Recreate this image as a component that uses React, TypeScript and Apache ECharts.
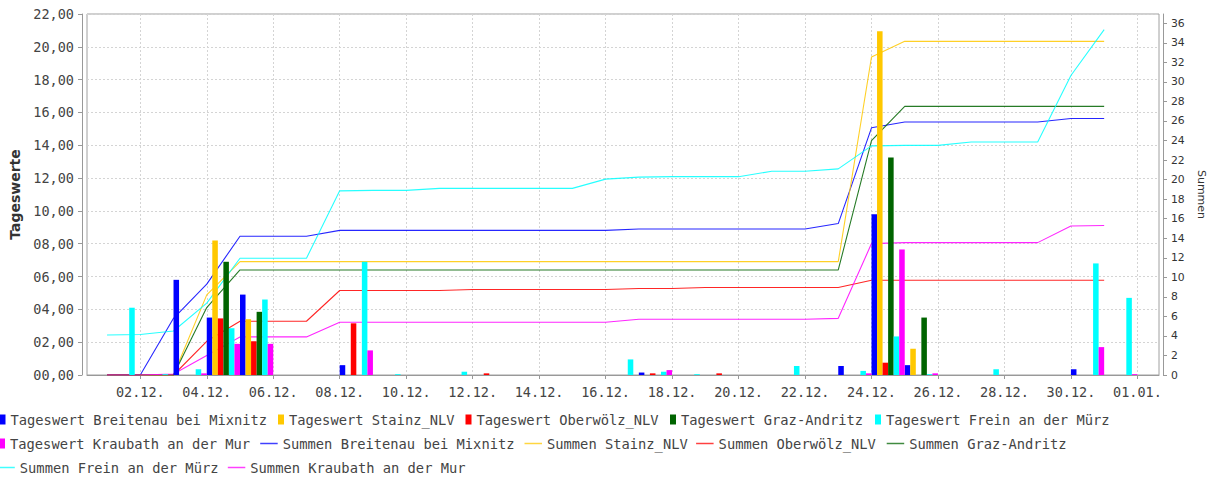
import React, { useEffect, useRef } from 'react';
import * as echarts from 'echarts';

// Day of month (December), 1 = 01.12.
const days = [1, 2, 3, 4, 5, 6, 7, 8, 9, 10, 11, 12, 13, 14, 15, 16, 17, 18, 19, 20, 21, 22, 23, 24, 25, 26, 27, 28, 29, 30, 31];

// x tick positions (day numbers) and their labels
const tickDays = [2, 4, 6, 8, 10, 12, 14, 16, 18, 20, 22, 24, 26, 28, 30, 32];
const tickLabels = ['02.12.', '04.12.', '06.12.', '08.12.', '10.12.', '12.12.', '14.12.', '16.12.', '18.12.', '20.12.', '22.12.', '24.12.', '26.12.', '28.12.', '30.12.', '01.01.'];
const rightTicks = [0, 2, 4, 6, 8, 10, 12, 14, 16, 18, 20, 22, 24, 26, 28, 30, 32, 34, 36];

// Daily values (Tageswerte)
const tagBreitenau = [0, 0, 5.8, 3.5, 4.9, 0, 0, 0.6, 0, 0, 0, 0, 0, 0, 0, 0, 0.15, 0, 0, 0, 0, 0, 0.55, 9.8, 0.6, 0, 0, 0, 0, 0.35, 0];
const tagStainz = [0, 0, 0, 8.2, 3.4, 0, 0, 0, 0, 0, 0, 0, 0, 0, 0, 0, 0, 0, 0, 0, 0, 0, 0, 20.95, 1.6, 0, 0, 0, 0, 0, 0];
const tagOberwoelz = [0, 0, 0, 3.45, 2.05, 0, 0, 3.15, 0, 0, 0, 0.1, 0, 0, 0, 0, 0.1, 0, 0.1, 0, 0, 0, 0, 0.75, 0, 0, 0, 0, 0, 0, 0];
const tagGraz = [0, 0, 0, 6.9, 3.85, 0, 0, 0, 0, 0, 0, 0, 0, 0, 0, 0, 0, 0, 0, 0, 0, 0, 0, 13.25, 3.5, 0, 0, 0, 0, 0, 0];
const tagFrein = [4.1, 0.05, 0.35, 2.85, 4.6, 0, 0, 6.9, 0.05, 0, 0.2, 0, 0, 0, 0, 0.95, 0.2, 0.05, 0, 0, 0.55, 0, 0.25, 2.35, 0.05, 0, 0.35, 0, 0, 6.8, 4.7];
const tagKraubath = [0, 0, 0.1, 1.9, 1.9, 0, 0, 1.5, 0, 0, 0, 0, 0, 0, 0, 0, 0.3, 0, 0, 0, 0, 0, 0.1, 7.65, 0.1, 0, 0, 0, 0, 1.7, 0.05];

// Running totals (Summen)
const sumBreitenau = [0, 0, 5.8, 9.3, 14.2, 14.2, 14.2, 14.8, 14.8, 14.8, 14.8, 14.8, 14.8, 14.8, 14.8, 14.8, 14.95, 14.95, 14.95, 14.95, 14.95, 14.95, 15.5, 25.3, 25.9, 25.9, 25.9, 25.9, 25.9, 26.25, 26.25];
const sumStainz = [0, 0, 0, 8.2, 11.6, 11.6, 11.6, 11.6, 11.6, 11.6, 11.6, 11.6, 11.6, 11.6, 11.6, 11.6, 11.6, 11.6, 11.6, 11.6, 11.6, 11.6, 11.6, 32.55, 34.15, 34.15, 34.15, 34.15, 34.15, 34.15, 34.15];
const sumOberwoelz = [0, 0, 0, 3.45, 5.5, 5.5, 5.5, 8.65, 8.65, 8.65, 8.65, 8.75, 8.75, 8.75, 8.75, 8.75, 8.85, 8.85, 8.95, 8.95, 8.95, 8.95, 8.95, 9.7, 9.7, 9.7, 9.7, 9.7, 9.7, 9.7, 9.7];
const sumGraz = [0, 0, 0, 6.9, 10.75, 10.75, 10.75, 10.75, 10.75, 10.75, 10.75, 10.75, 10.75, 10.75, 10.75, 10.75, 10.75, 10.75, 10.75, 10.75, 10.75, 10.75, 10.75, 24.0, 27.5, 27.5, 27.5, 27.5, 27.5, 27.5, 27.5];
const sumFrein = [4.1, 4.15, 4.5, 7.35, 11.95, 11.95, 11.95, 18.85, 18.9, 18.9, 19.1, 19.1, 19.1, 19.1, 19.1, 20.05, 20.25, 20.3, 20.3, 20.3, 20.85, 20.85, 21.1, 23.45, 23.5, 23.5, 23.85, 23.85, 23.85, 30.65, 35.35];
const sumKraubath = [0, 0, 0.1, 2.0, 3.9, 3.9, 3.9, 5.4, 5.4, 5.4, 5.4, 5.4, 5.4, 5.4, 5.4, 5.4, 5.7, 5.7, 5.7, 5.7, 5.7, 5.7, 5.8, 13.45, 13.55, 13.55, 13.55, 13.55, 13.55, 15.25, 15.3];

const stations = ['Breitenau bei Mixnitz', 'Stainz_NLV', 'Oberwölz_NLV', 'Graz-Andritz', 'Frein an der Mürz', 'Kraubath an der Mur'];
const colors = ['#0000ff', '#ffc800', '#ff0000', '#006400', '#00ffff', '#ff00ff'];
const tagData = [tagBreitenau, tagStainz, tagOberwoelz, tagGraz, tagFrein, tagKraubath];
const sumData = [sumBreitenau, sumStainz, sumOberwoelz, sumGraz, sumFrein, sumKraubath];

const MONO = 'DejaVu Sans Mono';
const X_MIN = 0.397;
const X_MAX = 32.65;
const GRID_LEFT = 87;
const GRID_RIGHT = 56;
const PLOT_W = 1215 - GRID_LEFT - GRID_RIGHT;
const BAR_W = PLOT_W / (X_MAX - X_MIN) / 6;

function pad2(v: number) {
  return (v < 10 ? '0' : '') + v.toFixed(2).replace('.', ',');
}

// legend layout: [series name, text x, row centre y, isLine]
const legendLayout: [string, number, number, boolean][] = [
  ['Tageswert ' + stations[0], 10.5, 419.5, false],
  ['Tageswert ' + stations[1], 289, 419.5, false],
  ['Tageswert ' + stations[2], 476.5, 419.5, false],
  ['Tageswert ' + stations[3], 681, 419.5, false],
  ['Tageswert ' + stations[4], 886, 419.5, false],
  ['Tageswert ' + stations[5], 10, 443.5, false],
  ['Summen ' + stations[0], 282.7, 443.5, true],
  ['Summen ' + stations[1], 547, 443.5, true],
  ['Summen ' + stations[2], 718.6, 443.5, true],
  ['Summen ' + stations[3], 909.2, 443.5, true],
  ['Summen ' + stations[4], 19.8, 467.5, true],
  ['Summen ' + stations[5], 250.3, 467.5, true],
];

export default function App() {
  const ref = useRef<HTMLDivElement>(null);
  useEffect(() => {
    if (!ref.current) return;
    const chart = echarts.init(ref.current, null, { renderer: 'svg' });

    const barSeries = stations.map((s, k) => ({
      name: 'Tageswert ' + s,
      type: 'bar',
      xAxisIndex: 0,
      yAxisIndex: 0,
      barWidth: BAR_W,
      barGap: '0%',
      z: 3,
      itemStyle: { color: colors[k] },
      data: days.map((d, i) => [d + 0.5, tagData[k][i]]),
    }));
    const lineSeries = stations.map((s, k) => ({
      name: 'Summen ' + s,
      type: 'line',
      xAxisIndex: 0,
      yAxisIndex: 1,
      showSymbol: false,
      symbol: 'none',
      z: 2,
      itemStyle: { color: colors[k] },
      lineStyle: { color: colors[k], width: 1.1, opacity: 0.85 },
      data: days.map((d, i) => [d, sumData[k][i]]),
    }));

    const legends = legendLayout.map(([name, tx, cy, isLine]) => {
      const iw = isLine ? 17.5 : 6;
      const lg: any = {
        show: true,
        data: [{ name, icon: 'rect' }],
        left: tx - iw - 5,
        top: cy - 8,
        padding: 0,
        itemWidth: iw,
        itemHeight: isLine ? 1.5 : 10,
        selectedMode: false,
        textStyle: { fontFamily: MONO, fontSize: 13.75, color: '#444', lineHeight: 16 },
      };
      if (isLine) lg.itemStyle = { opacity: 0.75 };
      return lg;
    });

    const option: any = {
      animation: false,
      backgroundColor: '#ffffff',
      grid: {
        left: GRID_LEFT,
        right: GRID_RIGHT,
        top: 14,
        bottom: 107,
        show: true,
        borderColor: '#a0a0a0',
        borderWidth: 1,
        backgroundColor: '#ffffff',
        containLabel: false,
      },
      legend: legends,
      xAxis: {
        type: 'value',
        min: X_MIN,
        max: X_MAX,
        offset: 4,
        axisLine: { show: true, lineStyle: { color: '#999' } },
        axisTick: { show: true, length: 4, customValues: tickDays, lineStyle: { color: '#999' } },
        axisLabel: {
          customValues: tickDays,
          margin: 6,
          fontFamily: MONO,
          fontSize: 13.5,
          color: '#444',
          formatter: (v: number) => {
            const i = tickDays.indexOf(Math.round(v));
            return i >= 0 ? tickLabels[i] : '';
          },
        },
        splitLine: { show: true, lineStyle: { color: '#d4d4d4', type: [2, 2] } },
      },
      yAxis: [
        {
          type: 'value',
          position: 'left',
          min: 0,
          max: 22,
          interval: 2,
          offset: 5,
          name: 'Tageswerte',
          nameLocation: 'middle',
          nameGap: 54,
          nameRotate: 90,
          nameTextStyle: { fontFamily: 'DejaVu Sans', fontWeight: 'bold', fontSize: 14, color: '#333' },
          axisLine: { show: true, lineStyle: { color: '#999' } },
          axisTick: { show: true, length: 4, lineStyle: { color: '#999' } },
          axisLabel: { margin: 8, fontFamily: MONO, fontSize: 13.5, color: '#444', formatter: (v: number) => pad2(v) },
          splitLine: { show: true, lineStyle: { color: '#d4d4d4', type: [2, 2] } },
        },
        {
          type: 'value',
          position: 'right',
          min: 0,
          max: 36.95,
          interval: 2,
          offset: 4,
          name: 'Summen',
          nameLocation: 'middle',
          nameGap: 27,
          nameRotate: -90,
          nameTextStyle: { fontFamily: 'DejaVu Sans', fontSize: 11, color: '#333' },
          axisLine: { show: true, lineStyle: { color: '#999' } },
          axisTick: { show: true, length: 4, customValues: rightTicks, lineStyle: { color: '#999' } },
          axisLabel: {
            customValues: rightTicks,
            margin: 8,
            fontFamily: 'DejaVu Sans',
            fontSize: 10.8,
            color: '#333',
            formatter: (v: number) => (Number.isInteger(v) ? String(v) : ''),
          },
          splitLine: { show: false },
        },
      ],
      series: [...lineSeries, ...barSeries],
    };
    chart.setOption(option);
    return () => chart.dispose();
  }, []);
  return <div ref={ref} style={{ position: 'absolute', left: 0, top: 0, width: 1215, height: 482, background: '#fff' }} />;
}
